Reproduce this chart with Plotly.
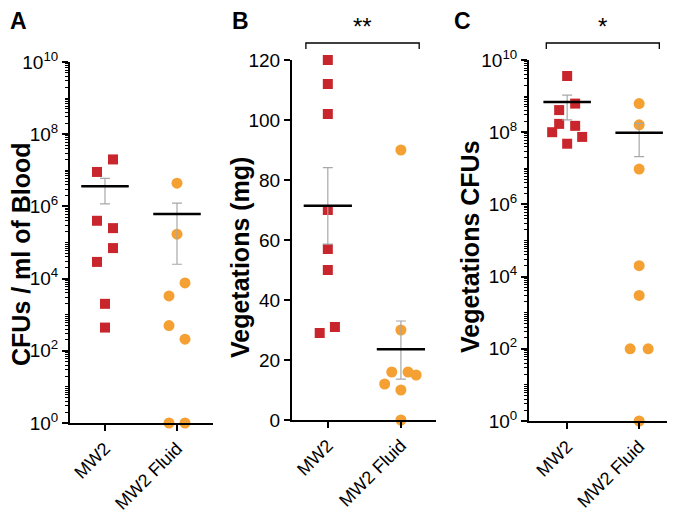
import plotly.graph_objects as go

# ---------------------------------------------------------------------
# Data
# ---------------------------------------------------------------------
GROUPS = ["MW2", "MW2 Fluid"]

# A) CFUs / ml of blood
A_MW2 = [2e7, 9e6, 4e5, 2.5e5, 7e4, 2.9e4, 2e3, 4.4e2]
A_FLUID = [4.4e6, 1.7e5, 7.6e3, 3.3e3, 5e2, 2.1e2, 1, 1]
A_MEAN = [3.6e6, 6.2e5]
A_LOW = [1.17e6, 2.5e4]
A_HIGH = [6.0e6, 1.24e6]

# B) Vegetation weight (mg)
B_MW2 = [120, 112, 102, 70, 57, 50, 31, 29]
B_FLUID = [90, 30, 16, 16, 15, 12, 10, 0]
B_MEAN = [71.4, 23.6]
B_LOW = [58.6, 13.6]
B_HIGH = [84.1, 33.0]

# C) Vegetation CFUs
C_MW2 = [3.6e9, 6.2e8, 4.1e8, 1.7e8, 1.5e8, 1e8, 7.4e7, 4.8e7]
C_FLUID = [6.2e8, 1.6e8, 9.5e6, 2e4, 3e3, 100, 100, 1]
C_MEAN = [6.9e8, 9.7e7]
C_LOW = [2.2e8, 2.1e7]
C_HIGH = [1.07e9, 1.75e8]

LOG_EXPONENTS = [0, 2, 4, 6, 8, 10]
LIN_TICKS = [0, 20, 40, 60, 80, 100, 120]

# ---------------------------------------------------------------------
# Styling / geometry (pixel positions measured in the 675x514 window)
# ---------------------------------------------------------------------
RED = "#C9252C"
ORANGE = "#F5A033"
GREY = "#A8A8A8"
FONT = "Liberation Sans, Arial, sans-serif"
OFF = 8  # page body margin
W, H = 675 - OFF, 514 - OFF
PX_PER_CAT = 72.0


def xp(px):
    return (px - OFF) / W


def yp(py):
    return 1 - (py - OFF) / H


# horizontal scatter of the dots, in pixels (style only)
JIT = {
    "A": ([8, -8, -8, 8, 8, -8, 0, 0], [0, 0, 8, -8, -8, 8, -8, 8]),
    "B": ([0, 0, 0, 0, 0, 0, 7, -8], [0, 0, -9, 7, 15, -16, 0, 0]),
    "C": ([0, 8, -8, -8, 8, -15, 15, 0], [0, 0, 0, 0, 0, -9, 9, 0]),
}

# minor ticks of the log axes: every digit of every decade
LOG_MINOR = [k * 10 ** n for n in range(10) for k in range(2, 11)]

panels = [
    dict(key="A", ax="", mw2=A_MW2, fl=A_FLUID, mean=A_MEAN, lo=A_LOW, hi=A_HIGH,
         log=True, xpx=(70, 213), ypx=(62, 423), xr=[-0.486, 1.5],
         title="CFUs / ml of Blood", title_x=21, title_y=254),
    dict(key="B", ax="2", mw2=B_MW2, fl=B_FLUID, mean=B_MEAN, lo=B_LOW, hi=B_HIGH,
         log=False, xpx=(292, 436), ypx=(60, 420), xr=[-0.49, 1.48],
         title="Vegetations (mg)", title_x=240, title_y=258),
    dict(key="C", ax="3", mw2=C_MW2, fl=C_FLUID, mean=C_MEAN, lo=C_LOW, hi=C_HIGH,
         log=True, xpx=(529, 673), ypx=(60, 421), xr=[-0.53, 1.47],
         title="Vegetations CFUs", title_x=470, title_y=247),
]

fig = go.Figure()
annotations = []
shapes = []

for p in panels:
    xa, ya = "x" + p["ax"], "y" + p["ax"]
    jm, jf = JIT[p["key"]]

    # points
    fig.add_trace(go.Scatter(
        x=[0 + j / PX_PER_CAT for j in jm], y=p["mw2"], xaxis=xa, yaxis=ya,
        mode="markers", cliponaxis=False, showlegend=False,
        marker=dict(symbol="square", size=10, color=RED),
    ))
    fig.add_trace(go.Scatter(
        x=[1 + j / PX_PER_CAT for j in jf], y=p["fl"], xaxis=xa, yaxis=ya,
        mode="markers", cliponaxis=False, showlegend=False,
        marker=dict(symbol="circle", size=11, color=ORANGE),
    ))

    # mean +/- SEM
    fig.add_trace(go.Scatter(
        x=[0, 1], y=p["mean"], xaxis=xa, yaxis=ya, mode="markers",
        marker=dict(size=1, opacity=0), showlegend=False, cliponaxis=False,
        error_y=dict(type="data", symmetric=False,
                     array=[h - m for h, m in zip(p["hi"], p["mean"])],
                     arrayminus=[m - l for m, l in zip(p["mean"], p["lo"])],
                     color=GREY, thickness=1.2, width=5),
    ))
    for i, m in enumerate(p["mean"]):
        fig.add_trace(go.Scatter(
            x=[i - 0.33, i + 0.33], y=[m, m], xaxis=xa, yaxis=ya,
            mode="lines", line=dict(color="black", width=2.5),
            showlegend=False, cliponaxis=False,
        ))

    x0, x1 = p["xpx"]
    y0, y1 = p["ypx"]
    xdom = [xp(x0), xp(x1)]
    ydom = [yp(y1), yp(y0)]

    xaxis = dict(domain=xdom, range=p["xr"], anchor=ya, automargin=False,
                 tickvals=[0, 1], ticktext=GROUPS, tickangle=-45,
                 showline=True, linecolor="black", linewidth=2,
                 ticks="outside", ticklen=6, tickwidth=2, tickcolor="black",
                 showgrid=False, zeroline=False, fixedrange=True,
                 tickfont=dict(family=FONT, size=18, color="black"))
    if p["log"]:
        yaxis = dict(type="log", range=[0, 10],
                     tickvals=[10 ** e for e in LOG_EXPONENTS],
                     ticktext=["10<sup>%d</sup>" % e for e in LOG_EXPONENTS],
                     minor=dict(ticks="outside", ticklen=3, tickwidth=1,
                                tickcolor="black", tickmode="array",
                                tickvals=LOG_MINOR, showgrid=False))
    else:
        yaxis = dict(range=[0, 120], tickvals=LIN_TICKS)
    yaxis.update(domain=ydom, anchor=xa, automargin=False, showline=True,
                 linecolor="black", linewidth=2, ticks="outside", ticklen=6,
                 tickwidth=2, tickcolor="black", showgrid=False, zeroline=False,
                 tickfont=dict(family=FONT, size=19, color="black"))

    name = "" if p["ax"] == "" else p["ax"]
    fig.update_layout({"xaxis" + name: xaxis, "yaxis" + name: yaxis})

    # y title
    annotations.append(dict(
        text="<b>%s</b>" % p["title"], xref="paper", yref="paper",
        x=xp(p["title_x"]), y=yp(p["title_y"]), textangle=-90,
        showarrow=False, xanchor="center", yanchor="middle",
        font=dict(family=FONT, size=25, color="black"),
    ))

# panel letters
for letter, lx in [("A", 8), ("B", 230), ("C", 452)]:
    annotations.append(dict(
        text="<b>%s</b>" % letter, xref="paper", yref="paper",
        x=xp(lx), y=yp(21), xanchor="left", yanchor="middle",
        showarrow=False, font=dict(family=FONT, size=23, color="black"),
    ))

# significance brackets
for ax, xl, xr, star in [("x2", -0.30, 1.25, "**"), ("x3", -0.29, 1.28, "*")]:
    yt, yb = yp(43), yp(49)
    shapes.append(dict(
        type="path", xref=ax, yref="paper",
        path=f"M {xl},{yb} L {xl},{yt} L {xr},{yt} L {xr},{yb}",
        line=dict(color="black", width=1.3),
    ))
    annotations.append(dict(
        text=star, xref=ax, yref="paper", x=(xl + xr) / 2, y=yp(26),
        showarrow=False, xanchor="center", yanchor="middle",
        font=dict(family=FONT, size=24, color="black"),
    ))

fig.update_layout(
    width=W, height=H,
    margin=dict(l=0, r=0, t=0, b=0),
    plot_bgcolor="white", paper_bgcolor="white",
    annotations=annotations, shapes=shapes,
    showlegend=False,
)

fig.write_html("out.html")
